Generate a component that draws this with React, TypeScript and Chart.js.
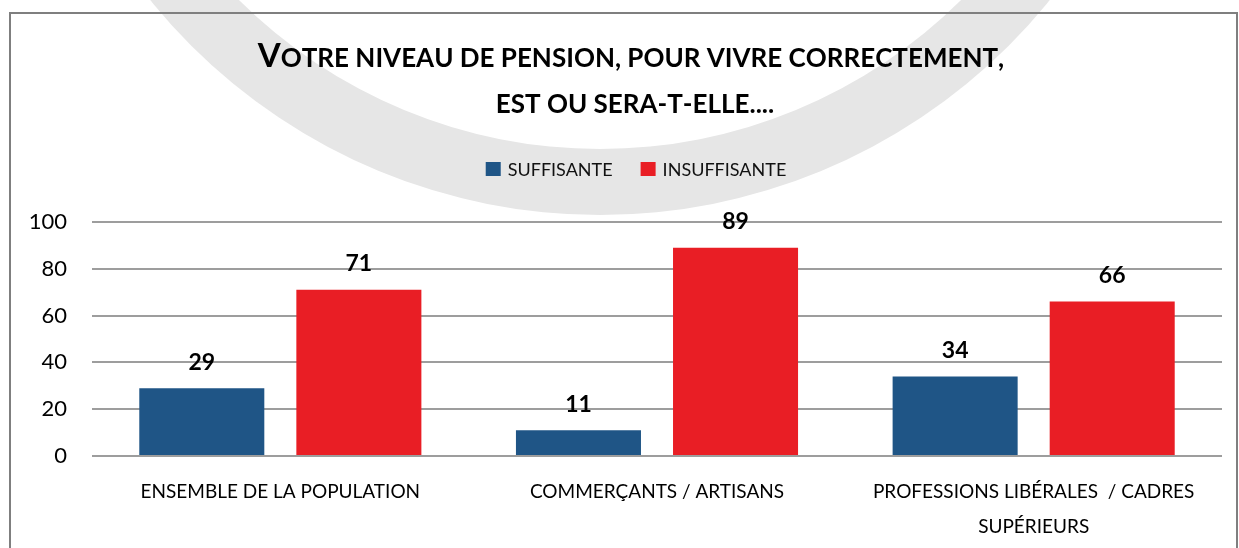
import React, { useEffect, useRef } from 'react';
import { Chart, registerables } from 'chart.js';

Chart.register(...registerables);

// ---- Data ----
const CATEGORIES: string[][] = [
  ['ENSEMBLE DE LA POPULATION'],
  ['COMMERÇANTS / ARTISANS'],
  ['PROFESSIONS LIBÉRALES  / CADRES', 'SUPÉRIEURS'],
];
const SERIES_NAMES = ['SUFFISANTE', 'INSUFFISANTE'];
const SUFFISANTE = [29, 11, 34];
const INSUFFISANTE = [71, 89, 66];
const Y_MIN = 0;
const Y_MAX = 100;
const Y_STEP = 20;
const TITLE_LINES = [
  'Votre niveau de pension, pour vivre correctement,',
  'est ou sera-t-elle....',
];

// ---- Styles ----
const COLORS = ['#1F5586', '#E91E25'];
const FONT = 'Lato, "Open Sans", sans-serif';
const W = 1239;
const H = 548;

function drawSmallCaps(
  ctx: CanvasRenderingContext2D,
  text: string,
  cx: number,
  baseline: number,
  big: number,
  small: number
) {
  const parts = Array.from(text).map((ch) => {
    const isUpper = ch !== ch.toLowerCase() && ch === ch.toUpperCase();
    return { ch: ch.toUpperCase(), size: isUpper ? big : small };
  });
  let total = 0;
  const widths: number[] = [];
  for (const p of parts) {
    ctx.font = `bold ${p.size}px ${FONT}`;
    const w = ctx.measureText(p.ch).width;
    widths.push(w);
    total += w;
  }
  let x = cx - total / 2;
  ctx.textAlign = 'left';
  ctx.textBaseline = 'alphabetic';
  parts.forEach((p, i) => {
    ctx.font = `bold ${p.size}px ${FONT}`;
    ctx.fillText(p.ch, x, baseline);
    x += widths[i];
  });
}

const backgroundPlugin = {
  id: 'bgDecor',
  beforeDraw(chart: any) {
    const ctx: CanvasRenderingContext2D = chart.ctx;
    ctx.save();
    ctx.fillStyle = '#ffffff';
    ctx.fillRect(0, 0, chart.width, chart.height);
    // watermark ring
    ctx.beginPath();
    ctx.arc(600, -363, 578, 0, Math.PI * 2);
    ctx.arc(600, -363, 512, 0, Math.PI * 2, true);
    ctx.fillStyle = '#e6e6e6';
    ctx.fill('evenodd');
    // frame
    ctx.strokeStyle = '#7f7f7f';
    ctx.lineWidth = 2;
    ctx.strokeRect(10, 13, 1227, 560);
    ctx.restore();
  },
};

const titleLegendPlugin = {
  id: 'titleLegend',
  afterDraw(chart: any) {
    const ctx: CanvasRenderingContext2D = chart.ctx;
    ctx.save();
    ctx.fillStyle = '#000000';
    drawSmallCaps(ctx, TITLE_LINES[0], 631, 67, 33, 26);
    drawSmallCaps(ctx, TITLE_LINES[1], 635, 113, 33, 26);

    // legend
    const datasets = chart.data.datasets;
    ctx.font = `18px ${FONT}`;
    const box = 15;
    const boxGap = 7;
    const itemGap = 28;
    const widths = datasets.map((d: any) => box + boxGap + ctx.measureText(d.label).width);
    const total = widths.reduce((a: number, b: number) => a + b, 0) + itemGap * (datasets.length - 1);
    let x = 636 - total / 2;
    const cy = 169;
    datasets.forEach((d: any, i: number) => {
      ctx.fillStyle = d.backgroundColor;
      ctx.fillRect(x, cy - 7, box, 14);
      ctx.fillStyle = '#111111';
      ctx.textAlign = 'left';
      ctx.textBaseline = 'middle';
      ctx.fillText(d.label, x + box + boxGap, cy + 1);
      x += widths[i] + itemGap;
    });
    ctx.restore();
  },
};

const valueLabelPlugin = {
  id: 'valueLabels',
  afterDatasetsDraw(chart: any) {
    const ctx: CanvasRenderingContext2D = chart.ctx;
    ctx.save();
    ctx.font = `bold 23px ${FONT}`;
    ctx.fillStyle = '#000000';
    ctx.textAlign = 'center';
    ctx.textBaseline = 'middle';
    chart.data.datasets.forEach((d: any, di: number) => {
      const meta = chart.getDatasetMeta(di);
      meta.data.forEach((bar: any, i: number) => {
        ctx.fillText(String(d.data[i]), bar.x, bar.y - 26);
      });
    });
    ctx.restore();
  },
};

export default function App() {
  const canvasRef = useRef<HTMLCanvasElement | null>(null);

  useEffect(() => {
    const canvas = canvasRef.current;
    if (!canvas) return;
    const chart = new Chart(canvas, {
      type: 'bar',
      data: {
        labels: CATEGORIES,
        datasets: [
          {
            label: SERIES_NAMES[0],
            data: SUFFISANTE,
            backgroundColor: COLORS[0],
            categoryPercentage: 0.834,
            barPercentage: 0.796,
          },
          {
            label: SERIES_NAMES[1],
            data: INSUFFISANTE,
            backgroundColor: COLORS[1],
            categoryPercentage: 0.834,
            barPercentage: 0.796,
          },
        ],
      },
      options: {
        responsive: false,
        animation: false,
        layout: { padding: { top: 222, left: 0, right: 17, bottom: 0 } },
        plugins: {
          legend: { display: false },
          title: { display: false },
          tooltip: { enabled: false },
        },
        scales: {
          x: {
            grid: { display: false, drawTicks: false },
            border: { display: false },
            ticks: {
              color: '#000000',
              padding: 18,
              font: { family: FONT, size: 19, lineHeight: '35px' },
              maxRotation: 0,
              autoSkip: false,
            },
            afterFit: (scale: any) => {
              scale.height = 92;
            },
          },
          y: {
            min: Y_MIN,
            max: Y_MAX,
            grid: { color: '#9d9d9d', lineWidth: 2, drawTicks: false },
            border: { display: false },
            ticks: {
              stepSize: Y_STEP,
              color: '#000000',
              padding: 25,
              font: { family: FONT, size: 22 },
            },
            afterFit: (scale: any) => {
              scale.width = 92;
            },
          },
        },
      } as any,
      plugins: [backgroundPlugin, valueLabelPlugin, titleLegendPlugin],
    });
    return () => chart.destroy();
  }, []);

  return (
    <div style={{ position: 'fixed', left: 0, top: 0, width: W, height: H, background: '#fff' }}>
      <canvas ref={canvasRef} width={W} height={H} style={{ display: 'block' }} />
    </div>
  );
}
